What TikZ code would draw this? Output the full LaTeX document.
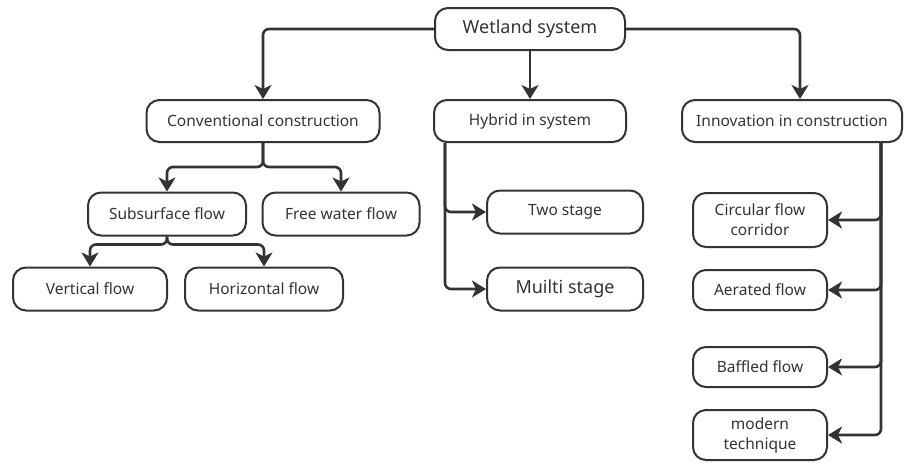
\documentclass[tikz,border=0pt]{standalone}
\usepackage{fontspec}
\setmainfont{Noto Sans}
\usepackage{tikz}
\usetikzlibrary{positioning}
\usetikzlibrary{arrows.meta}
\definecolor{ink}{HTML}{333333}

\begin{document}
\begin{tikzpicture}[
x=1pt, y=-1pt,
box/.style={rectangle, draw=ink, line width=2pt, rounded corners=13pt, text=ink, font=\fontsize{15.5}{20}\selectfont, minimum height=42pt, inner sep=2pt, align=center},
topbox/.style={box, font=\fontsize{18}{22}\selectfont},
edge/.style={draw=ink, line width=2.6pt, rounded corners=6pt, -{Stealth[length=14pt,width=17pt,inset=4pt]}}
]
\useasboundingbox (0,0) rectangle (904,463);

%Nodes
\node[topbox, minimum width=190pt] (wetland) at (530,29)  {Wetland system};
\node[box, minimum width=233pt]    (conv)    at (263,121) {Conventional construction};
\node[box, minimum width=192pt]    (hybrid)  at (530,121) {Hybrid in system};
\node[box, minimum width=220pt]    (innov)   at (792,121) {Innovation in construction};
\node[box, minimum width=158pt, minimum height=43pt] (subsurf) at (167,214) {Subsurface flow};
\node[box, minimum width=157pt, minimum height=43pt] (freewater) at (341,214) {Free water flow};
\node[box, minimum width=154pt, minimum height=43pt] (vertical) at (90,289) {Vertical flow};
\node[box, minimum width=158pt, minimum height=43pt] (horizontal) at (264,289) {Horizontal flow};
\node[box, minimum width=156pt, minimum height=43pt] (twostage) at (565,212) {Two stage};
\node[box, minimum width=156pt, minimum height=43pt, font=\fontsize{18}{22}\selectfont] (multistage) at (565,289) {Muilti stage};
\node[box, minimum width=134pt, minimum height=54pt] (circular) at (760,220) {Circular flow\\corridor};
\node[box, minimum width=134pt, minimum height=40pt] (aerated) at (760,290) {Aerated flow};
\node[box, minimum width=134pt, minimum height=40pt] (baffled) at (760,367) {Baffled flow};
\node[box, minimum width=134pt, minimum height=50pt] (modern) at (760,435) {modern\\technique};

%Edges
\draw[edge] (wetland.west) -| (conv.north);
\draw[edge] (wetland.south) -- (hybrid.north);
\draw[edge] (wetland.east) -| ([xshift=8]innov.north);
\draw[edge] (conv.south) -- ++(0,24) -| (subsurf.north);
\draw[edge] (conv.south) -- ++(0,24) -| (freewater.north);
\draw[edge] (subsurf.south) -- ++(0,8) -| (vertical.north);
\draw[edge] (subsurf.south) -- ++(0,8) -| (horizontal.north);
\draw[edge] ([xshift=12]hybrid.south west) |- (twostage.west);
\draw[edge] ([xshift=12]hybrid.south west) |- (multistage.west);
\draw[edge] ([xshift=-22]innov.south east) |- (circular.east);
\draw[edge] ([xshift=-22]innov.south east) |- (aerated.east);
\draw[edge] ([xshift=-22]innov.south east) |- (baffled.east);
\draw[edge] ([xshift=-22]innov.south east) |- (modern.east);

\end{tikzpicture}
\end{document}
